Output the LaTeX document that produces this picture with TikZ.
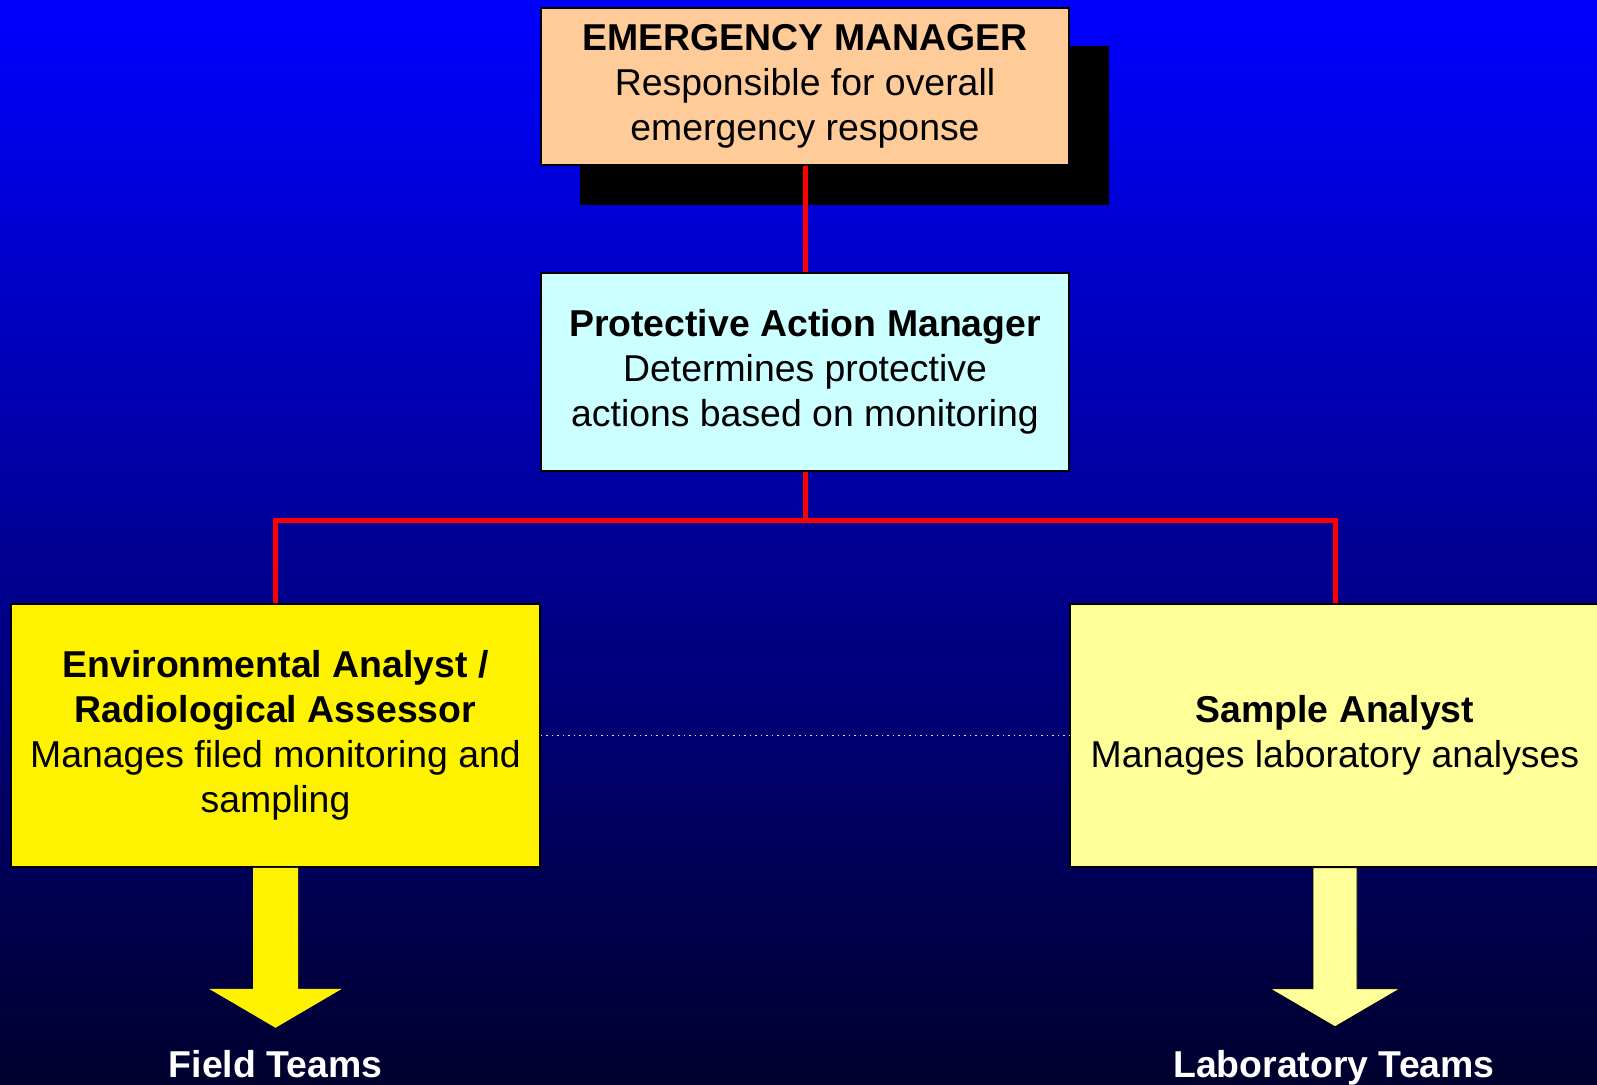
\documentclass[tikz,border=0pt]{standalone}
\usepackage{fontspec}
\setmainfont{Liberation Sans}
\usepackage{tikz}
\definecolor{bgtop}{RGB}{0,0,255}
\definecolor{bgbottom}{RGB}{0,0,45}
\definecolor{peach}{RGB}{255,204,153}
\definecolor{palecyan}{RGB}{204,255,255}
\definecolor{paleyellow}{RGB}{255,255,153}
\definecolor{linkred}{RGB}{255,0,0}

\tikzset{
  role/.style={draw=black, line width=0.75pt, align=center, inner sep=0pt,
    font=\fontsize{18.7}{22.5}\selectfont},
  link/.style={draw=linkred, line width=2.5pt},
  team/.style={text=white, anchor=base, font=\bfseries\fontsize{18.7}{22.5}\selectfont},
}

\begin{document}
\begin{tikzpicture}[x=0.5pt, y=-0.5pt]
    \clip (0,0) rectangle (1597,1084);
    \shade[top color=bgtop, bottom color=bgbottom] (0,0) rectangle (1597,1084);
    \fill[black] (580,46) rectangle (1109,205);
    \node[role, fill=peach, minimum width=264pt, minimum height=78.5pt] (em) at (805,86.5)
        {\textbf{EMERGENCY MANAGER}\\Responsible for overall\\emergency response};
    \node[role, fill=palecyan, minimum width=264pt, minimum height=99pt] (pam) at (805,372)
        {\textbf{Protective Action Manager}\\Determines protective\\actions based on monitoring};
    \node[role, fill=yellow, minimum width=264.5pt, minimum height=131.5pt] (ea) at (275.5,735.5)
        {\textbf{Environmental Analyst /}\\\textbf{Radiological Assessor}\\Manages filed monitoring and\\sampling};
    \node[role, fill=paleyellow, minimum width=265pt, minimum height=131.5pt] (sa) at (1335,735.5)
        {\textbf{Sample Analyst}\\Manages laboratory analyses};
    \draw[link] (em.south) -- (pam.north);
    \draw[link] (pam.south) -- ++(0,49) coordinate (split);
    \draw[link] (ea.north) |- (split) -| (sa.north);
    \draw[dotted, white!75!gray, line width=0.75pt] (ea.east) -- (sa.west);
    \fill[yellow, shift={(ea.south)}] (-22.5,0) -- (22.5,0) -- (22.5,121) -- (66.5,121)
        -- (0,160) -- (-66.5,121) -- (-22.5,121) -- cycle;
    \filldraw[fill=paleyellow, draw=black, line width=0.4pt, shift={(sa.south)}] (-22,0) -- (22,0)
        -- (22,121) -- (65,121) -- (0,159) -- (-65,121) -- (-22,121) -- cycle;
    \node[team] (field) at (275.5,1077) {Field Teams};
    \node[team] (lab) at (1334,1077) {Laboratory Teams};
\end{tikzpicture}
\end{document}
